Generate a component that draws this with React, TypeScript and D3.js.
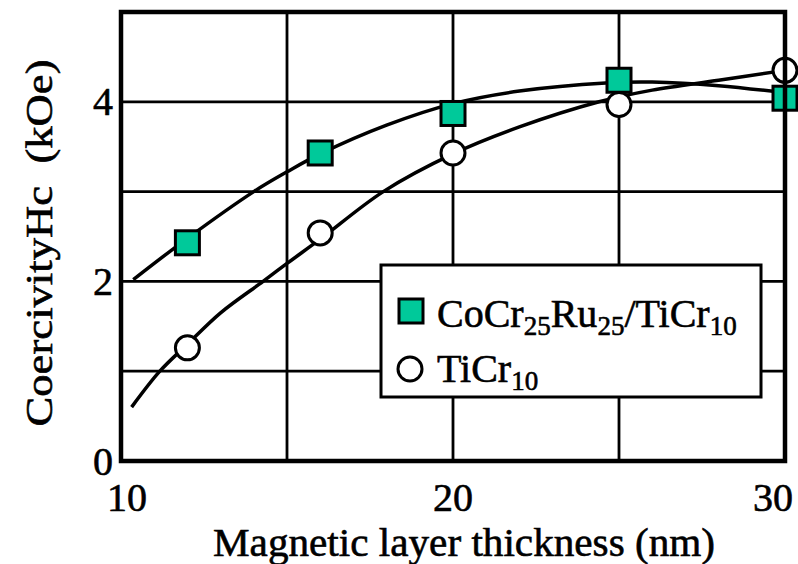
import React, { useEffect, useRef } from 'react';
import * as d3 from 'd3';

// measured points
const thickness = [12, 16, 20, 25, 30];
const coCrRu = [2.43, 3.43, 3.87, 4.24, 4.04];
const tiCr = [1.26, 2.54, 3.43, 3.97, 4.35];

// fitted curves
const fitXA = [10.37, 12, 14, 15, 16, 18, 20, 22, 24.6, 26, 28, 30];
const fitYA = [2.02, 2.48, 3.0, 3.22, 3.42, 3.74, 3.98, 4.12, 4.21, 4.22, 4.18, 4.1];
const fitXB = [10.32, 11.17, 12, 13, 14.28, 15, 16, 17.9, 20, 22, 24.4, 26, 28, 30];
const fitYB = [0.6, 1.0, 1.3, 1.65, 2.0, 2.2, 2.47, 3.0, 3.42, 3.72, 4.0, 4.13, 4.24, 4.35];

const xTicks = [10, 20, 30];
const yTicks = [0, 2, 4];
const xGrid = [15, 20, 25];
const yGrid = [1, 2, 3, 4];

const FONT = '"Liberation Serif", "Times New Roman", serif';
const TEAL = '#00c99a';

export default function App() {
  const ref = useRef<SVGSVGElement>(null);

  useEffect(() => {
    const width = 798;
    const height = 564;
    const margin = { top: 12, right: 13, bottom: 103, left: 121 };

    const x = d3.scaleLinear().domain([10, 30]).range([margin.left, width - margin.right]);
    const y = d3.scaleLinear().domain([0, 5]).range([height - margin.bottom, margin.top]);

    const svg = d3.select(ref.current);
    svg.selectAll('*').remove();

    svg.append('rect').attr('width', width).attr('height', height).attr('fill', 'white');

    // grid
    const grid = svg.append('g').attr('stroke', 'black').attr('stroke-width', 2.8);
    grid
      .selectAll('line.v')
      .data(xGrid)
      .join('line')
      .attr('class', 'v')
      .attr('x1', (d) => x(d))
      .attr('x2', (d) => x(d))
      .attr('y1', y(0))
      .attr('y2', y(5));
    grid
      .selectAll('line.h')
      .data(yGrid)
      .join('line')
      .attr('class', 'h')
      .attr('x1', x(10))
      .attr('x2', x(30))
      .attr('y1', (d) => y(d))
      .attr('y2', (d) => y(d));

    // fitted curves
    const line = d3
      .line<number>()
      .curve(d3.curveCatmullRom)
      .x((d) => x(d));
    svg
      .append('path')
      .attr('fill', 'none')
      .attr('stroke', 'black')
      .attr('stroke-width', 3.5)
      .attr('d', line.y((d, i) => y(fitYA[i]))(fitXA));
    svg
      .append('path')
      .attr('fill', 'none')
      .attr('stroke', 'black')
      .attr('stroke-width', 3.5)
      .attr('d', line.y((d, i) => y(fitYB[i]))(fitXB));

    // markers
    svg
      .append('g')
      .selectAll('circle')
      .data(thickness)
      .join('circle')
      .attr('cx', (d) => x(d))
      .attr('cy', (d, i) => y(tiCr[i]))
      .attr('r', 12)
      .attr('fill', 'white')
      .attr('stroke', 'black')
      .attr('stroke-width', 3);
    svg
      .append('g')
      .selectAll('rect')
      .data(thickness)
      .join('rect')
      .attr('x', (d) => x(d) - 12)
      .attr('y', (d, i) => y(coCrRu[i]) - 12)
      .attr('width', 24)
      .attr('height', 24)
      .attr('fill', TEAL)
      .attr('stroke', 'black')
      .attr('stroke-width', 3);

    // legend
    const lg = svg.append('g').attr('font-family', FONT).attr('fill', 'black');
    lg.append('rect')
      .attr('x', 381)
      .attr('y', 265)
      .attr('width', 380)
      .attr('height', 132)
      .attr('fill', 'white')
      .attr('stroke', 'black')
      .attr('stroke-width', 3);
    lg.append('rect')
      .attr('x', 399)
      .attr('y', 299)
      .attr('width', 24)
      .attr('height', 24)
      .attr('fill', TEAL)
      .attr('stroke', 'black')
      .attr('stroke-width', 3);
    lg.append('circle')
      .attr('cx', 410)
      .attr('cy', 369)
      .attr('r', 12)
      .attr('fill', 'white')
      .attr('stroke', 'black')
      .attr('stroke-width', 3);
    const txt = lg.append('g').attr('stroke', 'black').attr('stroke-width', 0.6);
    const t1 = txt.append('text').attr('x', 437).attr('y', 327).attr('font-size', 40);
    t1.append('tspan').text('CoCr');
    t1.append('tspan').attr('font-size', 27).attr('dy', 8).text('25');
    t1.append('tspan').attr('dy', -8).text('Ru');
    t1.append('tspan').attr('font-size', 27).attr('dy', 8).text('25');
    t1.append('tspan').attr('dy', -8).text('/TiCr');
    t1.append('tspan').attr('font-size', 27).attr('dy', 8).text('10');
    const t2 = txt.append('text').attr('x', 437).attr('y', 382).attr('font-size', 40);
    t2.append('tspan').text('TiCr');
    t2.append('tspan').attr('font-size', 27).attr('dy', 8).text('10');

    // frame
    svg
      .append('rect')
      .attr('x', x(10))
      .attr('y', y(5))
      .attr('width', x(30) - x(10))
      .attr('height', y(0) - y(5))
      .attr('fill', 'none')
      .attr('stroke', 'black')
      .attr('stroke-width', 4.5);

    // tick labels
    const labels = svg
      .append('g')
      .attr('font-family', FONT)
      .attr('font-size', 40)
      .attr('fill', 'black')
      .attr('stroke', 'black')
      .attr('stroke-width', 0.6);
    labels
      .selectAll('text.x')
      .data(xTicks)
      .join('text')
      .attr('class', 'x')
      .attr('x', (d, i) => x(d) + (i === 0 ? 6 : i === xTicks.length - 1 ? -12 : 0))
      .attr('y', 511)
      .attr('text-anchor', 'middle')
      .text((d) => d);
    labels
      .selectAll('text.y')
      .data(yTicks)
      .join('text')
      .attr('class', 'y')
      .attr('x', x(10) - 8)
      .attr('y', (d) => y(d))
      .attr('dy', '0.34em')
      .attr('text-anchor', 'end')
      .text((d) => d);

    // axis titles
    labels
      .append('text')
      .attr('x', 464)
      .attr('y', 556)
      .attr('text-anchor', 'middle')
      .attr('textLength', 502)
      .attr('lengthAdjust', 'spacingAndGlyphs')
      .text('Magnetic layer thickness (nm)');
    labels
      .append('text')
      .attr('transform', 'translate(52,243) rotate(-90)')
      .attr('text-anchor', 'middle')
      .attr('font-size', 38)
      .attr('textLength', 367)
      .attr('lengthAdjust', 'spacingAndGlyphs')
      .style('white-space', 'pre')
      .text('CoercivityHc  (kOe)');
  }, []);

  return (
    <svg
      ref={ref}
      width={798}
      height={564}
      style={{ position: 'absolute', left: 0, top: 0, display: 'block' }}
    />
  );
}
